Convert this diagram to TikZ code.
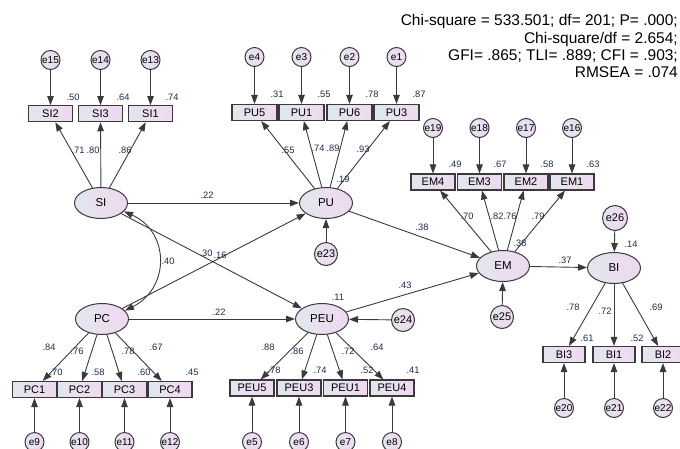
\documentclass[tikz,border=0pt]{standalone}
\usepackage{fontspec}
\setmainfont{Liberation Sans}
\usetikzlibrary{shapes.geometric,arrows.meta}
\definecolor{shadeL}{HTML}{E2E6EE}
\definecolor{shadeR}{HTML}{F0D8F0}
\definecolor{edge}{HTML}{3A3A3A}
\definecolor{numtext}{HTML}{1E2A50}
\tikzset{
  base/.style={draw=edge, left color=shadeL, right color=shadeR, inner sep=0pt, text=black},
  obs/.style={base, rectangle, line width=1.1pt, minimum width=44pt, minimum height=16pt,
    font=\fontsize{11}{11}\selectfont},
  lat/.style={base, ellipse, line width=1pt, minimum width=53pt, minimum height=31pt,
    font=\fontsize{11.5}{11.5}\selectfont},
  err/.style={base, circle, line width=1pt, minimum size=19pt,
    font=\fontsize{10}{10}\selectfont},
  dist/.style={err, minimum size=23pt, font=\fontsize{11}{11}\selectfont},
  num/.style={font=\fontsize{9.3}{9.3}\selectfont, text=numtext, inner sep=0pt},
  fit/.style={font=\fontsize{15.5}{15.5}\selectfont, text=black, inner sep=0pt, anchor=base east},
  path/.style={draw=edge, line width=0.9pt, -{Triangle[length=9pt,width=6.5pt]}},
  cov/.style={draw=edge, line width=0.9pt, {Triangle[length=9pt,width=6.5pt]}-{Triangle[length=9pt,width=6.5pt]}},
}
\begin{document}
\begin{tikzpicture}[x=1pt,y=-1pt]
\useasboundingbox (0,0) rectangle (680,448);

% fit indices
\node[fit] (fit1) at (678,25) {Chi-square = 533.501; df= 201; P= .000;};
\node[fit] (fit2) at (678,43) {Chi-square/df = 2.654;};
\node[fit] (fit3) at (678,60) {GFI= .865; TLI= .889; CFI = .903;};
\node[fit] (fit4) at (678,77) {RMSEA = .074};

% latent variables
\node[lat] (SI)  at (101,203) {SI};
\node[lat] (PU)  at (326,203) {PU};
\node[lat] (EM)  at (503,266) {EM};
\node[lat] (BI)  at (614,268) {BI};
\node[lat] (PC)  at (102,319) {PC};
\node[lat] (PEU) at (322,319) {PEU};

% SI indicators
\foreach \n/\x/\e in {SI2/50.5/e15, SI3/100.5/e14, SI1/150.5/e13}{
  \node[obs] (\n) at (\x,113.7) {\n};
  \node[err] (\e) at (\x,60) {\e};
  \draw[path] (\e) -- (\n);
  \draw[path] (SI) -- (\n);
}
% PU indicators
\foreach \n/\x/\e in {PU5/254.5/e4, PU1/301.5/e3, PU6/349.5/e2, PU3/396.5/e1}{
  \node[obs, minimum width=45pt] (\n) at (\x,112.5) {\n};
  \node[err] (\e) at (\x,57) {\e};
  \draw[path] (\e) -- (\n);
  \draw[path] (PU) -- (\n);
}
% EM indicators
\foreach \n/\x/\e in {EM4/433/e19, EM3/479.5/e18, EM2/526/e17, EM1/572/e16}{
  \node[obs] (\n) at (\x,182) {\n};
  \node[err] (\e) at (\x,128) {\e};
  \draw[path] (\e) -- (\n);
  \draw[path] (EM) -- (\n);
}
% BI indicators
\foreach \n/\x/\e in {BI3/564/e20, BI1/614/e21, BI2/663/e22}{
  \node[obs, minimum width=42pt] (\n) at (\x,354.5) {\n};
  \node[err] (\e) at (\x,408) {\e};
  \draw[path] (\e) -- (\n);
  \draw[path] (BI) -- (\n);
}
% PC indicators
\foreach \n/\x/\e in {PC1/34.5/e9, PC2/79.5/e10, PC3/124.5/e11, PC4/170/e12}{
  \node[obs] (\n) at (\x,389.5) {\n};
  \node[err] (\e) at (\x,442) {\e};
  \draw[path] (\e) -- (\n);
  \draw[path] (PC) -- (\n);
}
% PEU indicators
\foreach \n/\x/\e in {PEU5/252/e5, PEU3/299/e6, PEU1/345.5/e7, PEU4/392/e8}{
  \node[obs] (\n) at (\x,388) {\n};
  \node[err] (\e) at (\x,442) {\e};
  \draw[path] (\e) -- (\n);
  \draw[path] (PEU) -- (\n);
}

% disturbances
\node[dist] (e23) at (326,254) {e23};
\node[dist] (e25) at (502,317) {e25};
\node[dist] (e24) at (403,320) {e24};
\node[dist, minimum size=25pt] (e26) at (615,218) {e26};
\draw[path] (e23) -- (PU);
\draw[path] (e25) -- (EM);
\draw[path] (e24) -- (PEU);
\draw[path] (e26) -- (BI);

% structural paths
\draw[path] (SI) -- (PU);
\draw[path] (SI) -- (PEU);
\draw[path] (PC) -- (PU);
\draw[path] (PC) -- (PEU);
\draw[path] (PU) -- (EM);
\draw[path] (PEU) -- (EM);
\draw[path] (EM) -- (BI);
\draw[cov] (SI.-20) .. controls (170,232) and (170,288) .. (PC.20);

% squared multiple correlations
\foreach \t/\x/\y in {.50/73/97, .64/123/97, .74/172/97,
  .31/277/94, .55/324/94, .78/372/94, .87/419/94,
  .49/455/164, .67/500/164, .58/547/164, .63/593/164,
  .61/587/338, .52/637/338,
  .70/56/372, .58/98/372, .60/144/372, .45/192/372,
  .78/274/370, .74/320/370, .52/367/370, .41/413/370,
  .19/343/179, .38/520/243, .14/631/244, .11/338/297}{
  \node[num] at (\x,\y) {\t};
}
% loadings
\foreach \t/\x/\y in {.71/78/150, .80/93/150, .86/125/150,
  .55/288/150, .74/318/148, .89/333/148, .93/363/149,
  .70/467/216, .82/497/216, .76/510/216, .79/538/216,
  .78/573/307, .72/605/311, .69/656/307,
  .84/49/347, .76/77/351, .78/128/351, .67/156/347,
  .88/268/347, .86/297/351, .72/348/351, .64/377/347}{
  \node[num] at (\x,\y) {\t};
}
% path coefficients
\foreach \t/\x/\y in {.22/207/195, .30/206/253, .16/220/255, .40/168/261,
  .22/219/312, .38/422/227, .43/405/285, .37/565/260}{
  \node[num] at (\x,\y) {\t};
}
\end{tikzpicture}
\end{document}
